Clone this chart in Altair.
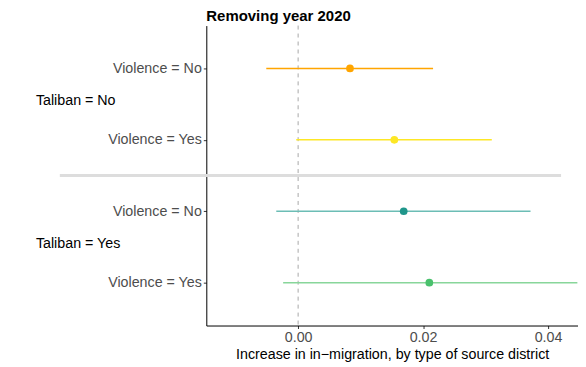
import altair as alt
import pandas as pd

labels = ["Violence = No", "Violence = Yes", "Violence = No", "Violence = Yes"]
taliban = ["No", "No", "Yes", "Yes"]
estimate = [0.0083, 0.0154, 0.0169, 0.0210]
lower = [-0.0051, -0.0003, -0.0035, -0.0024]
upper = [0.0216, 0.0310, 0.0372, 0.0447]
point_colors = ["#FFA500", "#FDE725", "#1F968B", "#4AC16D"]
line_colors = ["#FFA500", "#FDE725", "#6CBDB5", "#88D69A"]
group_labels = ["Taliban = No", "Taliban = Yes"]

df = pd.DataFrame({
    "row": list(range(len(labels))),
    "label": labels,
    "taliban": taliban,
    "est": estimate,
    "lo": lower,
    "hi": upper,
    "pc": point_colors,
    "lc": line_colors,
})
groups = pd.DataFrame({"row": [0.5, 2.5], "text": group_labels})
sep = pd.DataFrame({"row": [1.5]})
zero = pd.DataFrame({"x": [0.0]})

FONT = "Liberation Sans"
FS = 14.3
xscale = alt.Scale(domain=[-0.0147, 0.0448], nice=False, zero=False)
yscale = alt.Scale(domain=[-0.6, 3.6], reverse=True, nice=False, zero=False)

label_expr = "datum.value == 0 || datum.value == 2 ? 'Violence = No' : 'Violence = Yes'"

base = alt.Chart(df)

bars = base.mark_rule(strokeWidth=1.5, clip=True).encode(
    x=alt.X("lo:Q", scale=xscale,
            axis=alt.Axis(values=[0, 0.02, 0.04], format=".2f", grid=False,
                          domainColor="black", domainWidth=1, tickColor="#333333",
                          tickSize=3, labelColor="#4D4D4D", labelFontSize=FS,
                          labelFont=FONT, labelPadding=2,
                          title="Increase in in\u2212migration, by type of source district",
                          titleFont=FONT, titleFontSize=FS, titleFontWeight="normal",
                          titleColor="black", titlePadding=3)),
    x2="hi:Q",
    y=alt.Y("row:Q", scale=yscale,
            axis=alt.Axis(values=[0, 1, 2, 3], labelExpr=label_expr, grid=False,
                          domainColor="black", domainWidth=1, tickColor="#333333",
                          tickSize=3, labelColor="#4D4D4D", labelFontSize=FS,
                          labelFont=FONT, labelPadding=2, title=None)),
    color=alt.Color("lc:N", scale=None),
)

points = base.mark_circle(size=60, opacity=1).encode(
    x=alt.X("est:Q", scale=xscale),
    y=alt.Y("row:Q", scale=yscale),
    color=alt.Color("pc:N", scale=None),
)

zero_line = alt.Chart(zero).mark_rule(color="#A8A8A8", strokeDash=[4, 4], strokeWidth=1).encode(
    x=alt.X("x:Q", scale=xscale),
)

sep_line = alt.Chart(sep).mark_rule(color="#DDDDDD", strokeWidth=3, clip=False).encode(
    y=alt.Y("row:Q", scale=yscale),
    x=alt.value(-147),
    x2=alt.value(356),
)

group_text = alt.Chart(groups).mark_text(
    align="left", baseline="middle", font=FONT, fontSize=FS, color="black", dy=-3
).encode(
    y=alt.Y("row:Q", scale=yscale),
    x=alt.value(-171),
    text="text:N",
)

chart = alt.layer(zero_line, sep_line, bars, points, group_text).properties(
    width=373,
    height=301,
    title=alt.TitleParams("Removing year 2020", anchor="start", frame="group", font=FONT,
                          fontSize=15, fontWeight="bold", color="black", offset=1),
    autosize=alt.AutoSizeParams(type="none"),
    padding={"left": 199, "top": 17, "right": 0, "bottom": 45},
).configure_view(stroke=None)

chart.save("out.html", embed_options={"renderer": "svg", "actions": False})
